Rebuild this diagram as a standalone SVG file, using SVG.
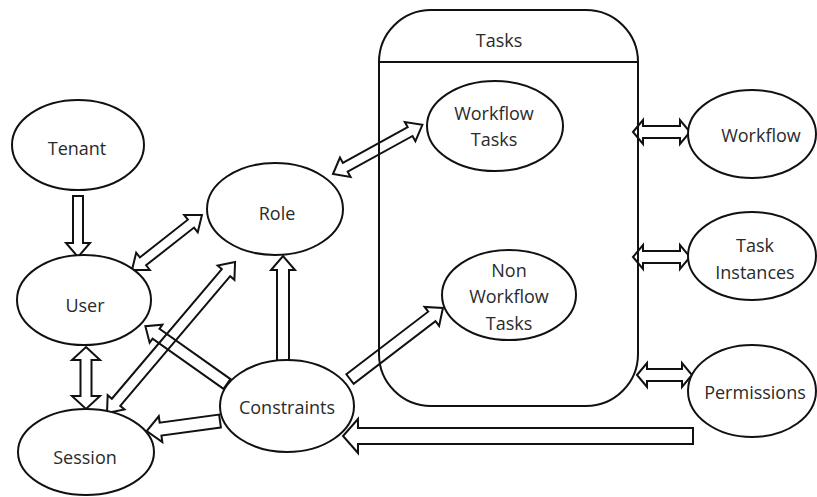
<svg xmlns="http://www.w3.org/2000/svg" width="817" height="497" viewBox="0 0 817 497">
  <style>
    .node { fill: #ffffff; stroke: #111111; stroke-width: 2; }
    .box { fill: none; stroke: #111111; stroke-width: 2; }
    .arrow { fill: none; stroke: #111111; stroke-width: 2; stroke-linejoin: miter; }
    .label { font-family: "Open Sans", "Noto Sans", sans-serif; font-size: 18px; fill: #2a2a2a; text-anchor: middle; dominant-baseline: central; }
  </style>
  <rect width="817" height="497" fill="#ffffff"/>

  <!-- block arrows: each drawn along +x from its tail, then placed and turned -->
  <g id="connectors">
    <polygon class="arrow" transform="translate(78,196) rotate(90)" points="0,-5 47,-5 47,-12 61,0 47,12 47,5 0,5"/>
    <polygon class="arrow" transform="translate(86,347) rotate(90)" points="0,0 13,-14 13,-5.5 49,-5.5 49,-14 62,0 49,14 49,5.5 13,5.5 13,14"/>
    <polygon class="arrow" transform="translate(132,270) rotate(-38.2)" points="0,0 14,-11 14,-5 75,-5 75,-11 89,0 75,11 75,5 14,5 14,11"/>
    <polygon class="arrow" transform="translate(107,413) rotate(-49.7)" points="0,0 14,-11 14,-5.5 184,-5.5 184,-11 198,0 184,11 184,5.5 14,5.5 14,11"/>
    <polygon class="arrow" transform="translate(333,174) rotate(-28.8)" points="0,0 14,-11 14,-5 88,-5 88,-11 102,0 88,11 88,5 14,5 14,11"/>
    <polygon class="arrow" transform="translate(227,384) rotate(-144.7)" points="0,-6 87,-6 87,-11 100,0 87,11 87,6 0,6"/>
    <polygon class="arrow" transform="translate(220,421) rotate(172.2)" points="0,-6.5 60,-6.5 60,-13 74,0 60,13 60,6.5 0,6.5"/>
    <polygon class="arrow" transform="translate(283,362) rotate(-90)" points="0,-6 92,-6 92,-12 106,0 92,12 92,6 0,6"/>
    <polygon class="arrow" transform="translate(350,379) rotate(-37.4)" points="0,-6 103,-6 103,-12 117,0 103,12 103,6 0,6"/>
    <polygon class="arrow" transform="translate(633,132)" points="0,0 10,-12 10,-6 47,-6 47,-12 57,0 47,12 47,6 10,6 10,12"/>
    <polygon class="arrow" transform="translate(633,257)" points="0,0 10,-12 10,-6 47,-6 47,-12 57,0 47,12 47,6 10,6 10,12"/>
    <polygon class="arrow" transform="translate(637,375)" points="0,0 10,-12 10,-6 45,-6 45,-12 55,0 45,12 45,6 10,6 10,12"/>
    <polygon class="arrow" transform="translate(693,436) rotate(180)" points="0,-8 335,-8 335,-17 350,0 335,17 335,8 0,8"/>
  </g>

  <!-- Tasks container with header line -->
  <g id="tasks">
    <path class="box" d="M379,62 A52,52 0 0 1 431,10 L586,10 A52,52 0 0 1 638,62 L638,354 A52,52 0 0 1 586,406 L431,406 A52,52 0 0 1 379,354 Z"/>
    <line class="box" x1="379" y1="62" x2="638" y2="62"/>
    <text class="label" x="499" y="40">Tasks</text>
  </g>

  <g id="tenant">
    <ellipse class="node" cx="78" cy="145" rx="66" ry="45"/>
    <text class="label" x="77" y="148">Tenant</text>
  </g>
  <g id="user">
    <ellipse class="node" cx="84" cy="300" rx="67" ry="45"/>
    <text class="label" x="85" y="305">User</text>
  </g>
  <g id="session">
    <ellipse class="node" cx="86" cy="452" rx="68" ry="43"/>
    <text class="label" x="85" y="457">Session</text>
  </g>
  <g id="role">
    <ellipse class="node" cx="275" cy="209" rx="68" ry="46"/>
    <text class="label" x="277" y="213">Role</text>
  </g>
  <g id="constraints">
    <ellipse class="node" cx="287" cy="406" rx="67" ry="46"/>
    <text class="label" x="287" y="407">Constraints</text>
  </g>
  <g id="workflow-tasks">
    <ellipse class="node" cx="495" cy="126" rx="68" ry="45"/>
    <text class="label" x="494" y="113">Workflow</text>
    <text class="label" x="494" y="139">Tasks</text>
  </g>
  <g id="non-workflow-tasks">
    <ellipse class="node" cx="509" cy="295" rx="67" ry="45"/>
    <text class="label" x="509" y="270">Non</text>
    <text class="label" x="509" y="296">Workflow</text>
    <text class="label" x="509" y="323">Tasks</text>
  </g>
  <g id="workflow">
    <ellipse class="node" cx="752" cy="134" rx="64" ry="44"/>
    <text class="label" x="761" y="135">Workflow</text>
  </g>
  <g id="task-instances">
    <ellipse class="node" cx="752" cy="256" rx="64" ry="44"/>
    <text class="label" x="755" y="245">Task</text>
    <text class="label" x="755" y="272">Instances</text>
  </g>
  <g id="permissions">
    <ellipse class="node" cx="752" cy="391" rx="64" ry="46"/>
    <text class="label" x="755" y="392">Permissions</text>
  </g>
</svg>
